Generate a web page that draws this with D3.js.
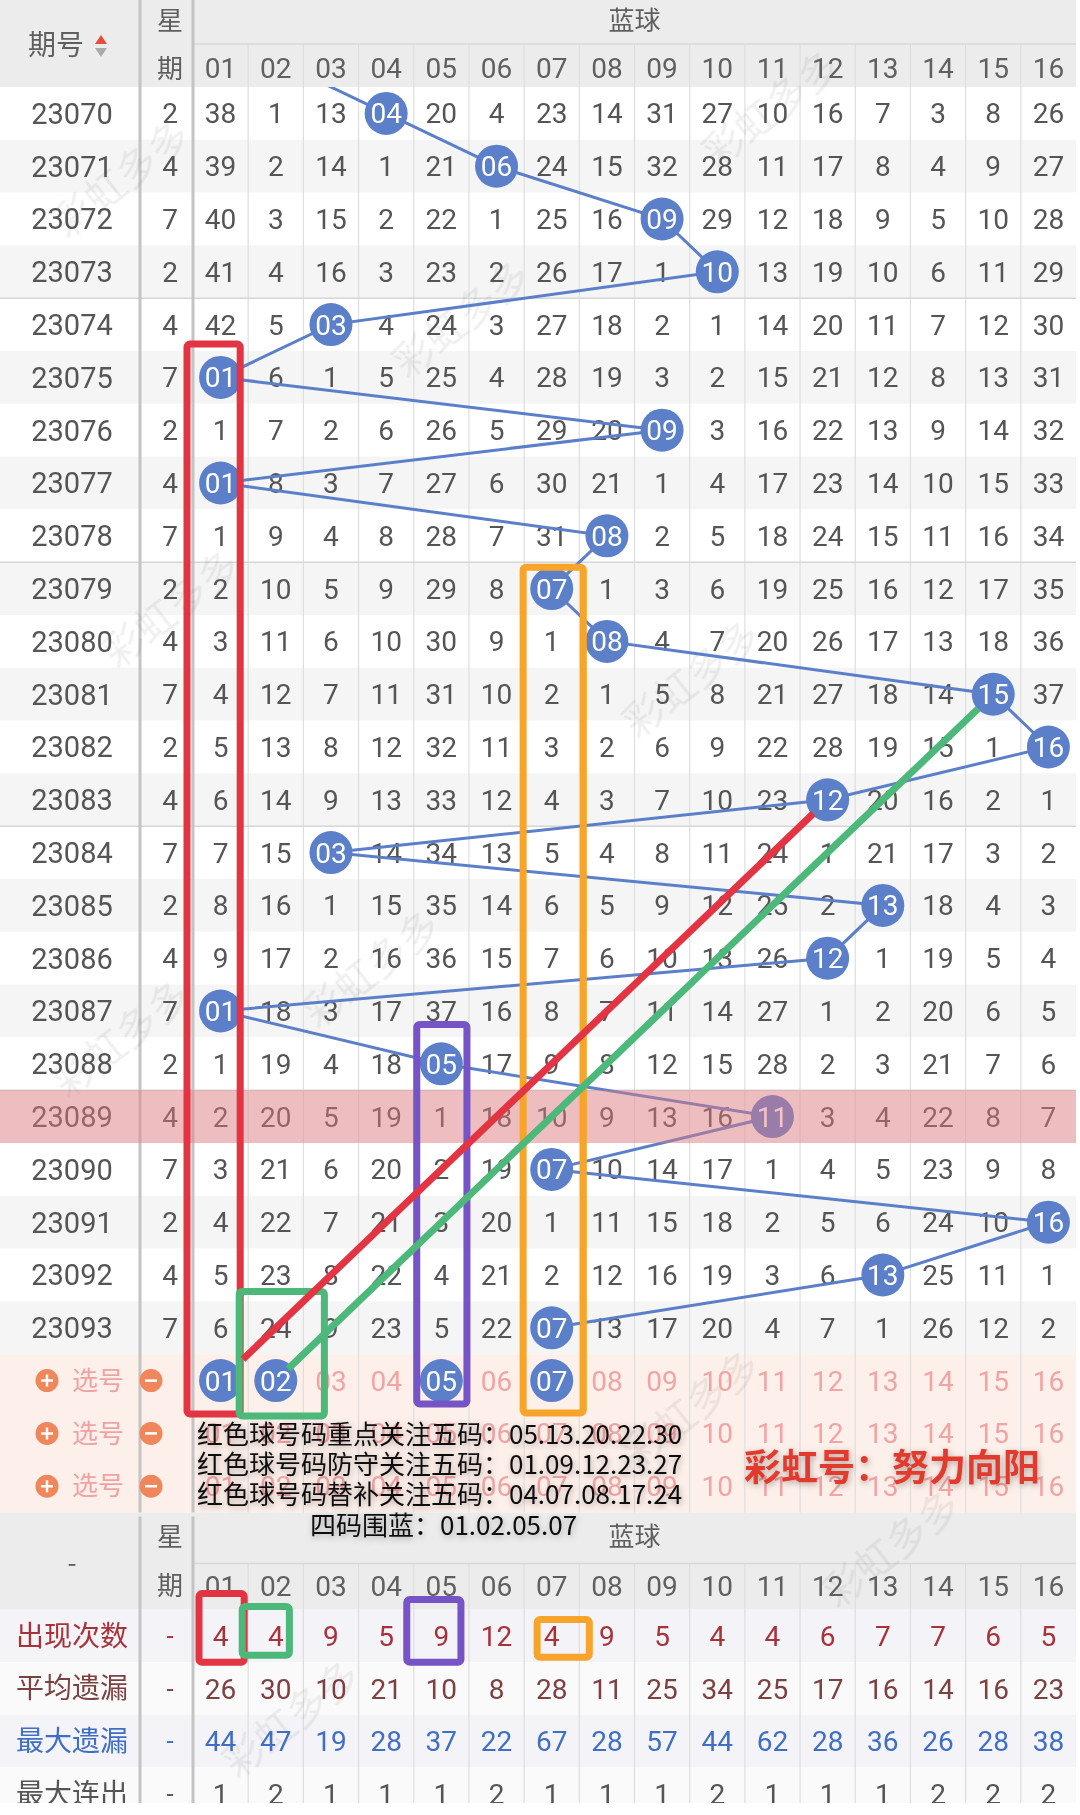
<!DOCTYPE html>
<html><head><meta charset="utf-8">
<script src="https://cdn.jsdelivr.net/npm/d3@7"></script>
<style>body{margin:0;background:#fff;} svg{display:block}</style>
</head><body><svg id="c" width="1080" height="1815"></svg>
<script>
// ---------------- DATA ----------------
const periods = ["23070","23071","23072","23073","23074","23075","23076","23077","23078","23079","23080","23081","23082","23083","23084","23085","23086","23087","23088","23089","23090","23091","23092","23093"];
const weekdays = [2,4,7,2,4,7,2,4,7,2,4,7,2,4,7,2,4,7,2,4,7,2,4,7];
const cols = ["01","02","03","04","05","06","07","08","09","10","11","12","13","14","15","16"];
// omission values; null = drawn ball of that period
const omissions = [
 [38,1,13,null,20,4,23,14,31,27,10,16,7,3,8,26],
 [39,2,14,1,21,null,24,15,32,28,11,17,8,4,9,27],
 [40,3,15,2,22,1,25,16,null,29,12,18,9,5,10,28],
 [41,4,16,3,23,2,26,17,1,null,13,19,10,6,11,29],
 [42,5,null,4,24,3,27,18,2,1,14,20,11,7,12,30],
 [null,6,1,5,25,4,28,19,3,2,15,21,12,8,13,31],
 [1,7,2,6,26,5,29,20,null,3,16,22,13,9,14,32],
 [null,8,3,7,27,6,30,21,1,4,17,23,14,10,15,33],
 [1,9,4,8,28,7,31,null,2,5,18,24,15,11,16,34],
 [2,10,5,9,29,8,null,1,3,6,19,25,16,12,17,35],
 [3,11,6,10,30,9,1,null,4,7,20,26,17,13,18,36],
 [4,12,7,11,31,10,2,1,5,8,21,27,18,14,null,37],
 [5,13,8,12,32,11,3,2,6,9,22,28,19,15,1,null],
 [6,14,9,13,33,12,4,3,7,10,23,null,20,16,2,1],
 [7,15,null,14,34,13,5,4,8,11,24,1,21,17,3,2],
 [8,16,1,15,35,14,6,5,9,12,25,2,null,18,4,3],
 [9,17,2,16,36,15,7,6,10,13,26,null,1,19,5,4],
 [null,18,3,17,37,16,8,7,11,14,27,1,2,20,6,5],
 [1,19,4,18,null,17,9,8,12,15,28,2,3,21,7,6],
 [2,20,5,19,1,18,10,9,13,16,null,3,4,22,8,7],
 [3,21,6,20,2,19,null,10,14,17,1,4,5,23,9,8],
 [4,22,7,21,3,20,1,11,15,18,2,5,6,24,10,null],
 [5,23,8,22,4,21,2,12,16,19,3,6,null,25,11,1],
 [6,24,9,23,5,22,null,13,17,20,4,7,1,26,12,2]
];
const prevBall = "02"; // ball of the period before 23070 (line enters from above)
const highlightPeriod = "23089";
const pickRows = ["选号1","选号2","选号3"];
const pickBalls = ["01","02","05","07"];
const statLabels = ["出现次数","平均遗漏","最大遗漏","最大连出"];
const statCounts = [4,4,9,5,9,12,4,9,5,4,4,6,7,7,6,5];
const statAvgMiss = [26,30,10,21,10,8,28,11,25,34,25,17,16,14,16,23];
const statMaxMiss = [44,47,19,28,37,22,67,28,57,44,62,28,36,26,28,38];
const statMaxRun = [1,2,1,1,1,2,1,1,1,2,1,1,1,2,2,2];
const noteLines = ["红色球号码重点关注五码：05.13.20.22.30","红色球号码防守关注五码：01.09.12.23.27","红色球号码替补关注五码：04.07.08.17.24"];
const noteBlue = "四码围蓝：01.02.05.07";
const signature = "彩虹号：努力向阳";

// ---------------- LAYOUT ----------------
const svg = d3.select("#c");
const NUMF = "Roboto, 'Noto Sans', sans-serif";
const CJK = "'Noto Sans CJK SC', 'Noto Sans', sans-serif";
const gridL = 193, gridR = 1076, sepX = 140;
const x = d3.scaleBand().domain(cols).range([gridL, gridR]);
const rowKeys = periods.concat(pickRows);
const y = d3.scaleBand().domain(rowKeys).range([87, 87 + 27 * 52.8]);
const bw = x.bandwidth(), bh = y.bandwidth();
const cx = c => x(c) + bw / 2, cy = r => y(r) + bh / 2;
const dataBottom = y(pickRows[2]) + bh;
const bhTop = dataBottom, bhMid = bhTop + 51, bhBot = bhTop + 97;
const ys = d3.scaleBand().domain(statLabels).range([bhBot, bhBot + 4 * 52.6]);
const bhs = ys.bandwidth();
const statsEnd = 1803;

const defs = svg.append("defs");
defs.append("clipPath").attr("id","dataClip").append("rect")
  .attr("x",0).attr("y",87).attr("width",1080).attr("height",dataBottom-87);
defs.append("clipPath").attr("id","statClip").append("rect")
  .attr("x",0).attr("y",bhTop).attr("width",1080).attr("height",statsEnd-bhTop);
const f = defs.append("filter").attr("id","shadow").attr("x","-10%").attr("y","-40%").attr("width","120%").attr("height","180%");
f.append("feDropShadow").attr("dx",1).attr("dy",2).attr("stdDeviation",3).attr("flood-color","#000").attr("flood-opacity",0.3);

const bg = svg.append("g");
bg.append("rect").attr("x",0).attr("y",0).attr("width",gridR).attr("height",87).attr("fill","#ececec");
bg.selectAll(".row").data(periods).join("rect")
  .attr("x",0).attr("y",d=>y(d)).attr("width",gridR).attr("height",bh)
  .attr("fill",(d,i)=> i%2 ? "#f5f5f5" : "#ffffff");
bg.append("rect").attr("x",0).attr("y",y(pickRows[0])).attr("width",gridR).attr("height",bh*3).attr("fill","#fdefe9");
bg.append("rect").attr("x",0).attr("y",bhTop).attr("width",gridR).attr("height",bhBot-bhTop).attr("fill","#ececec");
const sg = svg.append("g").attr("clip-path","url(#statClip)");
sg.selectAll(".srow").data(statLabels).join("rect")
  .attr("x",0).attr("y",d=>ys(d)).attr("width",gridR).attr("height",bhs)
  .attr("fill",(d,i)=> i%2 ? "#fafafa" : "#f3f3f8");

// grid lines
const gl = svg.append("g");
cols.slice(1).forEach(c=>{
  gl.append("line").attr("x1",x(c)).attr("x2",x(c)).attr("y1",44).attr("y2",dataBottom).attr("stroke","#dedede").attr("stroke-width",1.2);
  gl.append("line").attr("x1",x(c)).attr("x2",x(c)).attr("y1",bhMid).attr("y2",statsEnd).attr("stroke","#dedede").attr("stroke-width",1.2);
});
gl.append("line").attr("x1",gridL).attr("x2",gridR).attr("y1",44).attr("y2",44).attr("stroke","#d8d8d8").attr("stroke-width",1.5);
gl.append("line").attr("x1",gridL).attr("x2",gridR).attr("y1",bhMid).attr("y2",bhMid).attr("stroke","#d8d8d8").attr("stroke-width",1.5);
["23074","23079","23084","23089"].forEach(p=>{
  gl.append("line").attr("x1",0).attr("x2",gridR).attr("y1",y(p)).attr("y2",y(p)).attr("stroke","#d6d6d6").attr("stroke-width",1.5);
});
[sepX, gridL].forEach(sx=>{
  gl.append("line").attr("x1",sx).attr("x2",sx).attr("y1",0).attr("y2",dataBottom).attr("stroke","#c4c4c4").attr("stroke-width",3);
  gl.append("line").attr("x1",sx).attr("x2",sx).attr("y1",bhTop+4).attr("y2",statsEnd).attr("stroke","#c4c4c4").attr("stroke-width",3);
});

// watermarks
const wm = svg.append("g").attr("opacity",0.09);
[[130,190],[470,330],[780,120],[700,690],[180,620],[380,980],[700,1420],[900,1560],[300,1730],[130,1050]].forEach(([wx,wy])=>{
  wm.append("text").attr("transform",`translate(${wx},${wy}) rotate(-38)`).attr("font-family",CJK).attr("font-size",40)
    .attr("fill","#555").attr("text-anchor","middle").text("彩虹多多");
});

// header texts
const ht = svg.append("g").attr("font-family",CJK).attr("fill","#5f5f5f");
ht.append("text").attr("x",56).attr("y",45).attr("dy","0.35em").attr("text-anchor","middle").attr("font-size",28).text("期号");
ht.append("path").attr("d",`M95,44 L101,35 L107,44 Z`).attr("fill","#e84c3d");
ht.append("path").attr("d",`M95,48 L101,57 L107,48 Z`).attr("fill","#aaaaaa");
ht.append("text").attr("x",170).attr("y",21).attr("dy","0.35em").attr("text-anchor","middle").attr("font-size",26).text("星");
ht.append("text").attr("x",170).attr("y",69).attr("dy","0.35em").attr("text-anchor","middle").attr("font-size",26).text("期");
ht.append("text").attr("x",(gridL+gridR)/2).attr("y",21).attr("dy","0.35em").attr("text-anchor","middle").attr("font-size",26).text("蓝球");
svg.append("g").selectAll("text").data(cols).join("text")
  .attr("x",d=>cx(d)).attr("y",68).attr("dy","0.36em").attr("text-anchor","middle")
  .attr("font-family",NUMF).attr("font-size",28).attr("fill","#606060").text(d=>d);

// data row labels
const rl = svg.append("g").attr("font-family",NUMF).attr("font-size",29).attr("fill","#555");
rl.selectAll(".p").data(periods).join("text").attr("x",72).attr("y",d=>cy(d)).attr("dy","0.36em")
  .attr("text-anchor","middle").text(d=>d);
rl.selectAll(".w").data(periods).join("text").attr("x",170).attr("y",d=>cy(d)).attr("dy","0.36em")
  .attr("text-anchor","middle").attr("font-size",28).text((d,i)=>weekdays[i]);

// omission numbers
const cells = [];
omissions.forEach((r,i)=> r.forEach((v,j)=>{ if(v!==null) cells.push({p:periods[i], c:cols[j], v}); }));
svg.append("g").selectAll("text").data(cells).join("text")
  .attr("x",d=>cx(d.c)).attr("y",d=>cy(d.p)).attr("dy","0.36em").attr("text-anchor","middle")
  .attr("font-family",NUMF).attr("font-size",28).attr("fill","#555").text(d=>d.v);

// pick rows
const pr = svg.append("g");
pickRows.forEach((r,k)=>{
  const yy = cy(r);
  pr.append("circle").attr("cx",47).attr("cy",yy).attr("r",11.5).attr("fill","#f0875c");
  pr.append("path").attr("d",`M41,${yy} h12 M47,${yy-6} v12`).attr("stroke","#fff").attr("stroke-width",2.5);
  pr.append("text").attr("x",98).attr("y",yy).attr("dy","0.35em").attr("text-anchor","middle")
    .attr("font-family",CJK).attr("font-size",26).attr("fill","#f0a2a2").text("选号");
  pr.append("circle").attr("cx",151).attr("cy",yy).attr("r",11.5).attr("fill","#f0875c");
  pr.append("path").attr("d",`M145,${yy} h12`).attr("stroke","#fff").attr("stroke-width",2.5);
  pr.selectAll(".n"+k).data(cols.filter(c=> !(k===0 && pickBalls.includes(c)))).join("text")
    .attr("x",c=>cx(c)).attr("y",yy).attr("dy","0.36em").attr("text-anchor","middle")
    .attr("font-family",NUMF).attr("font-size",28).attr("fill","#f2a4a4").text(c=>c);
});

// blue ball trend line
const hits = omissions.map((r,i)=>({p:periods[i], c:cols[r.indexOf(null)]}));
const linePts = [{px:cx(prevBall), py:y(periods[0])-bh/2}].concat(hits.map(h=>({px:cx(h.c), py:cy(h.p)})));
svg.append("g").attr("clip-path","url(#dataClip)").append("path")
  .attr("d", d3.line().x(d=>d.px).y(d=>d.py)(linePts))
  .attr("fill","none").attr("stroke","#5b7fc9").attr("stroke-width",3);
const balls = hits.concat(pickBalls.map(c=>({p:pickRows[0], c})));
const bg2 = svg.append("g");
bg2.selectAll("circle").data(balls).join("circle").attr("cx",d=>cx(d.c)).attr("cy",d=>cy(d.p)).attr("r",21.5).attr("fill","#5b7fc9");
bg2.selectAll("text").data(balls).join("text").attr("x",d=>cx(d.c)).attr("y",d=>cy(d.p)).attr("dy","0.36em")
  .attr("text-anchor","middle").attr("font-family",NUMF).attr("font-size",28).attr("fill","#fff").text(d=>d.c);

// highlighted period overlay
svg.append("rect").attr("x",0).attr("y",y(highlightPeriod)).attr("width",gridR).attr("height",bh)
  .attr("fill","rgb(228,122,126)").attr("opacity",0.45);

// highlight boxes
const boxes = [
  {c:"01", r0:"23075", r1:pickRows[0], col:"#e23442", d:[-6,-8,-7,7]},
  {c:"02", r0:"23093", r1:pickRows[0], col:"#4cb87a", d:[-9,21,-10,9]},
  {c:"05", r0:"23088", r1:pickRows[0], col:"#7654c6", d:[3,-2,-13,-3]},
  {c:"07", r0:"23079", r1:pickRows[0], col:"#f7a52a", d:[-1,4,5,6]}
];
const hb = svg.append("g").attr("fill","none").attr("stroke-width",7).attr("stroke-linejoin","round");
boxes.forEach(b=>{
  const x0 = x(b.c)+b.d[0], x1 = x(b.c)+bw+b.d[1], y0 = y(b.r0)+b.d[2], y1 = y(b.r1)+bh+b.d[3];
  hb.append("rect").attr("x",x0).attr("y",y0).attr("width",x1-x0).attr("height",y1-y0).attr("rx",3).attr("stroke",b.col);
});
// diagonal trend lines
const diags = [
  {from:{p:pickRows[0],c:"01"}, to:{p:"23083",c:"12"}, col:"#e23442", s:31, e:20},
  {from:{p:pickRows[0],c:"02"}, to:{p:"23081",c:"15"}, col:"#4cb87a", s:17, e:21}
];
diags.forEach(dg=>{
  const ax = cx(dg.from.c), ay = cy(dg.from.p), bx = cx(dg.to.c), by = cy(dg.to.p);
  const L = Math.hypot(bx-ax, by-ay), ux = (bx-ax)/L, uy = (by-ay)/L;
  svg.append("line").attr("x1",ax+ux*dg.s).attr("y1",ay+uy*dg.s).attr("x2",bx-ux*dg.e).attr("y2",by-uy*dg.e)
    .attr("stroke",dg.col).attr("stroke-width",7);
});

// bottom header
const bh2 = svg.append("g").attr("font-family",CJK).attr("fill","#5f5f5f");
bh2.append("text").attr("x",72).attr("y",(bhTop+bhBot)/2+2).attr("dy","0.35em").attr("text-anchor","middle").attr("font-size",26).text("-");
bh2.append("text").attr("x",170).attr("y",bhTop+24).attr("dy","0.35em").attr("text-anchor","middle").attr("font-size",26).text("星");
bh2.append("text").attr("x",170).attr("y",bhTop+73).attr("dy","0.35em").attr("text-anchor","middle").attr("font-size",26).text("期");
bh2.append("text").attr("x",(gridL+gridR)/2).attr("y",bhTop+24).attr("dy","0.35em").attr("text-anchor","middle").attr("font-size",26).text("蓝球");
svg.append("g").selectAll("text").data(cols).join("text")
  .attr("x",d=>cx(d)).attr("y",bhTop+73).attr("dy","0.36em").attr("text-anchor","middle")
  .attr("font-family",NUMF).attr("font-size",28).attr("fill","#606060").text(d=>d);

// stats
const statSeries = [statCounts, statAvgMiss, statMaxMiss, statMaxRun];
const statColors = ["#a8323a","#7d4141","#3f6fc4","#555555"];
const st = svg.append("g").attr("clip-path","url(#statClip)");
statLabels.forEach((lab,k)=>{
  const yy = ys(lab)+bhs/2;
  st.append("text").attr("x",72).attr("y",yy).attr("dy","0.35em").attr("text-anchor","middle")
    .attr("font-family",CJK).attr("font-size",28).attr("fill",statColors[k]).text(lab);
  st.append("text").attr("x",170).attr("y",yy).attr("dy","0.35em").attr("text-anchor","middle")
    .attr("font-family",NUMF).attr("font-size",26).attr("fill",statColors[k]).text("-");
  st.selectAll(".s"+k).data(statSeries[k]).join("text")
    .attr("x",(d,i)=>cx(cols[i])).attr("y",yy).attr("dy","0.36em").attr("text-anchor","middle")
    .attr("font-family",NUMF).attr("font-size",28).attr("fill",statColors[k]).text(d=>d);
});
const statBoxes = [
  {c:"01", col:"#e23442", d:[6,-4,-16,0]},
  {c:"02", col:"#4cb87a", d:[-6,-14,-3,-7]},
  {c:"05", col:"#7654c6", d:[-7,-8,-10,0]},
  {c:"07", col:"#f7a52a", d:[13,10,10,-5]}
];
const sb = svg.append("g").attr("fill","none").attr("stroke-width",7).attr("stroke-linejoin","round");
statBoxes.forEach(b=>{
  const x0 = x(b.c)+b.d[0], x1 = x(b.c)+bw+b.d[1], y0 = ys(statLabels[0])+b.d[2], y1 = ys(statLabels[0])+bhs+b.d[3];
  sb.append("rect").attr("x",x0).attr("y",y0).attr("width",x1-x0).attr("height",y1-y0).attr("rx",3).attr("stroke",b.col);
});

// notes
const nt = svg.append("g").attr("font-family",CJK).attr("font-size",26).attr("fill","#111").attr("filter","url(#shadow)");
noteLines.forEach((t,i)=>{
  nt.append("text").attr("x",197).attr("y",1435+i*29.6).attr("dy","0.36em").text(t);
});
nt.append("text").attr("x",310).attr("y",1526).attr("dy","0.36em").text(noteBlue);
svg.append("text").attr("x",744).attr("y",1468).attr("dy","0.36em").attr("font-family",CJK).attr("font-weight","bold")
  .attr("font-size",37).attr("fill","#e23b2e").attr("filter","url(#shadow)").text(signature);
</script>
</body></html>
